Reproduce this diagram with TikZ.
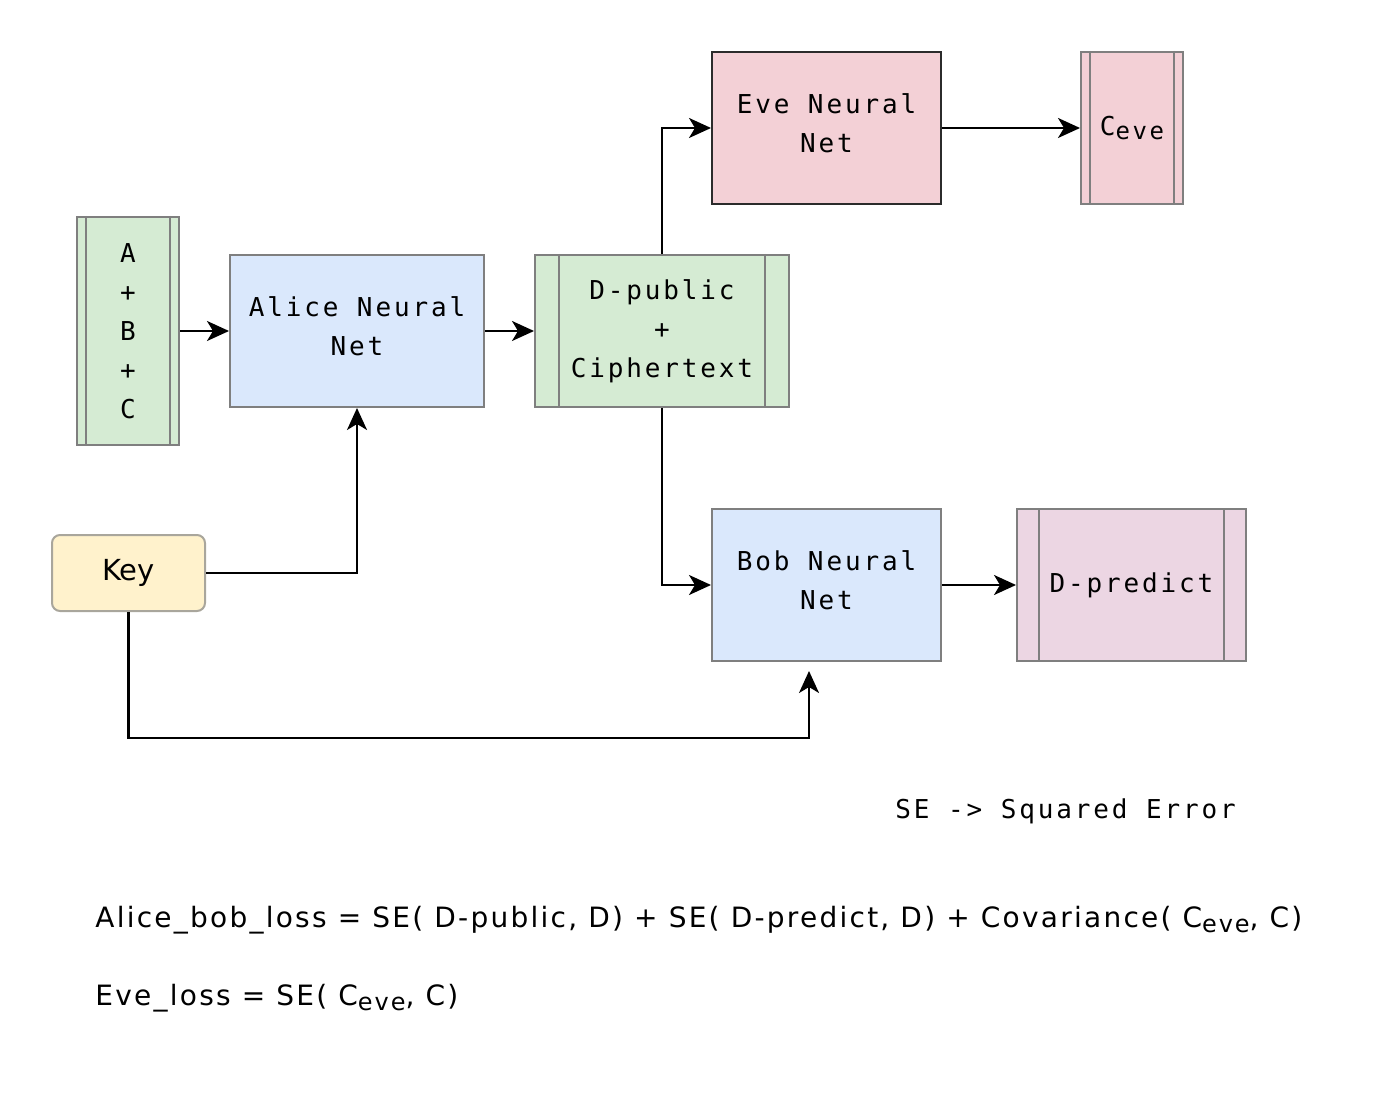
\documentclass[tikz,border=0pt]{standalone}
\usepackage{fontspec}
\setmainfont{DejaVu Sans}
\newfontfamily\netfont[LetterSpace=11]{DejaVu Sans Mono}
\newfontfamily\lossfont[LetterSpace=8]{DejaVu Sans}
\usetikzlibrary{arrows.meta}

\definecolor{boxgray}{HTML}{7F7F7F}
\definecolor{evedark}{HTML}{2B2B2B}
\definecolor{keygray}{HTML}{A9A69C}
\definecolor{plaingreen}{HTML}{D5EBD3}
\definecolor{netblue}{HTML}{DAE8FC}
\definecolor{evepink}{HTML}{F3D0D6}
\definecolor{predmix}{HTML}{ECD6E3}
\definecolor{keyyellow}{HTML}{FFF2CC}

% lowered, slightly smaller text (C_eve)
\newcommand{\lowtext}[1]{\raisebox{-2.4pt}{\fontsize{12}{12}\selectfont #1}}

\begin{document}
\begin{tikzpicture}[x=0.5pt,y=-0.5pt,
  box/.style={draw=boxgray, line width=1pt, inner sep=0pt, align=center,
    minimum height=76pt, font=\netfont\fontsize{13}{19.5}\selectfont},
  arr/.style={line width=1.1pt, -{Stealth[length=11pt,width=10pt,inset=3pt]}}]

\useasboundingbox (0,0) rectangle (1400,1095);

% inputs and the two boxes of the first row
\node[box, fill=plaingreen, minimum width=51pt, minimum height=114pt]
  (abc) at (128,331) {A\\+\\B\\+\\C};
\node[box, fill=netblue, minimum width=127pt] (alice) at (357,331) {Alice Neural\\Net\\[-15pt]};
\node[box, fill=plaingreen, minimum width=127pt] (dpub) at (662,331) {D-public\\+\\Ciphertext};

% Eve on top
\node[box, draw=evedark, fill=evepink, minimum width=114.5pt] (eve) at (826.5,128) {Eve Neural\\Net\\[-15pt]};
\node[box, fill=evepink, minimum width=51pt] (ceve) at (1132,128) {C\lowtext{eve}};

% Bob below
\node[box, fill=netblue, minimum width=114.5pt] (bob) at (826.5,585) {Bob Neural\\Net\\[-15pt]};
\node[box, fill=predmix, minimum width=114.5pt] (dpred) at (1131.5,585) {D-predict};

% the key
\node[draw=keygray, fill=keyyellow, line width=1pt, rounded corners=4pt,
  minimum width=76.5pt, minimum height=38pt, inner sep=0pt,
  font=\fontsize{14.5}{16}\selectfont] (key) at (128.5,573) {Key};

% side bars of the process boxes
\foreach \n/\d in {abc/5pt, dpub/12.5pt, ceve/5pt, dpred/11.5pt}{
  \draw[boxgray, line width=1pt] ([xshift=\d]\n.north west) -- ([xshift=\d]\n.south west);
  \draw[boxgray, line width=1pt] ([xshift=-\d]\n.north east) -- ([xshift=-\d]\n.south east);
}

% connectors
\draw[arr] (abc.east) -- (alice.west);
\draw[arr] (alice.east) -- (dpub.west);
\draw[arr] (dpub.north) |- (eve.west);
\draw[arr] (eve.east) -- (ceve.west);
\draw[arr] (dpub.south) |- (bob.west);
\draw[arr] (bob.east) -- (dpred.west);
\draw[arr] (key.east) -| (alice.south);
\coordinate (keyturn) at (809,738);
\coordinate (bobin) at (809,671);
\draw[arr] (key.south) |- (keyturn) -- (bobin);

% notes and losses
\node[anchor=west, inner sep=0pt, font=\netfont\fontsize{13}{19.5}\selectfont]
  (senote) at (895,811) {SE -> Squared Error};
\node[anchor=west, inner sep=0pt, font=\lossfont\fontsize{14}{16}\selectfont] (abloss) at (95,920)
  {Alice\_bob\_loss = SE( D-public, D) + SE( D-predict, D) + Covariance( C\lowtext{eve}, C)};
\node[anchor=west, inner sep=0pt, font=\lossfont\fontsize{14}{16}\selectfont] (eveloss) at (95,998)
  {Eve\_loss = SE( C\lowtext{eve}, C)};
\end{tikzpicture}
\end{document}
